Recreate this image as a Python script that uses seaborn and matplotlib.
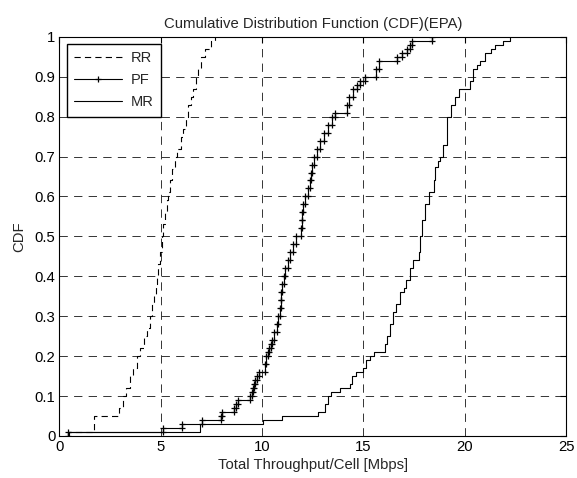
import numpy as np
import pandas as pd
import matplotlib
matplotlib.use("Agg")
import matplotlib.pyplot as plt
import seaborn as sns

# ---- data: step CDF breakpoints (throughput [Mbps], CDF level after jump) ----
rr_x = [0.45, 1.7, 2.95, 3.15, 3.3, 3.5, 3.65, 3.85, 4.0, 4.15, 4.3, 4.45, 4.55, 4.65,
        4.75, 4.8, 4.88, 4.95, 5.04, 5.1, 5.2, 5.3, 5.37, 5.45, 5.55, 5.7, 5.82, 6.0,
        6.1, 6.24, 6.35, 6.5, 6.6, 6.76, 6.85, 7.0, 7.2, 7.5, 7.7]
rr_f = [0.01, 0.05, 0.07, 0.10, 0.12, 0.15, 0.17, 0.20, 0.22, 0.25, 0.27, 0.30, 0.33, 0.35,
        0.38, 0.40, 0.43, 0.46, 0.50, 0.53, 0.56, 0.59, 0.61, 0.64, 0.67, 0.70, 0.72, 0.75,
        0.77, 0.80, 0.83, 0.85, 0.87, 0.90, 0.92, 0.95, 0.97, 0.99, 1.00]

pf_x = [0.44, 5.12, 6.05, 7.02, 7.95, 8.0, 8.6, 8.7, 8.8, 9.4, 9.5, 9.55, 9.6, 9.65, 9.75,
        9.85, 10.15, 10.2, 10.28, 10.35, 10.42, 10.5, 10.6, 10.72, 10.8, 10.88, 10.92,
        10.95, 11.0, 11.08, 11.15, 11.28, 11.4, 11.52, 11.65, 11.9, 11.97, 11.98, 12.0,
        12.1, 12.25, 12.36, 12.4, 12.45, 12.58, 12.7, 12.85, 13.05, 13.27, 13.45, 13.6,
        14.17, 14.3, 14.5, 14.7, 14.85, 15.1, 15.6, 15.75, 16.65, 16.9, 17.15, 17.3,
        17.4, 18.37]
pf_f = [0.01, 0.02, 0.03, 0.04, 0.05, 0.06, 0.07, 0.08, 0.09, 0.10, 0.11, 0.12, 0.13, 0.14, 0.15,
        0.16, 0.18, 0.20, 0.21, 0.22, 0.23, 0.24, 0.26, 0.28, 0.30, 0.32, 0.34,
        0.36, 0.38, 0.40, 0.42, 0.44, 0.46, 0.48, 0.50, 0.52, 0.54, 0.56, 0.58,
        0.60, 0.62, 0.64, 0.66, 0.68, 0.70, 0.72, 0.74, 0.76, 0.78, 0.80, 0.81,
        0.83, 0.85, 0.87, 0.88, 0.89, 0.90, 0.92, 0.94, 0.95, 0.96, 0.97, 0.98,
        0.99, 1.00]

mr_x = [0.44, 6.93, 10.06, 10.97, 12.78, 13.1, 13.27, 13.4, 13.84, 14.34, 14.42, 14.64,
        15.0, 15.15, 15.35, 15.5, 16.07, 16.15, 16.3, 16.45, 16.6, 16.8, 17.0, 17.1, 17.3,
        17.46, 17.76, 17.78, 17.9, 18.05, 18.26, 18.5, 18.54, 18.7, 18.8, 18.95, 19.11,
        19.3, 19.5, 19.7, 20.27, 20.4, 20.6, 20.76, 21.0, 21.3, 21.5, 21.9, 22.24]
mr_f = [0.01, 0.03, 0.04, 0.05, 0.06, 0.08, 0.10, 0.11, 0.12, 0.13, 0.15, 0.16,
        0.17, 0.19, 0.20, 0.21, 0.23, 0.25, 0.28, 0.31, 0.33, 0.36, 0.37, 0.39, 0.42,
        0.44, 0.46, 0.50, 0.54, 0.58, 0.61, 0.64, 0.675, 0.69, 0.70, 0.73, 0.80,
        0.83, 0.85, 0.87, 0.89, 0.92, 0.93, 0.94, 0.96, 0.97, 0.98, 0.99, 1.00]

series_names = ["RR", "PF", "MR"]
x_ticks = [0, 5, 10, 15, 20, 25]
y_ticks = [0, 0.1, 0.2, 0.3, 0.4, 0.5, 0.6, 0.7, 0.8, 0.9, 1]
y_tick_labels = ["0", "0.1", "0.2", "0.3", "0.4", "0.5", "0.6", "0.7", "0.8", "0.9", "1"]


def stairs(xv, fv):
    xv = np.asarray(xv, float)
    fv = np.asarray(fv, float)
    prev = np.concatenate([[0.0], fv[:-1]])
    xs = np.repeat(xv, 2)
    ys = np.empty(2 * len(fv))
    ys[0::2] = prev
    ys[1::2] = fv
    return pd.DataFrame({"x": xs, "y": ys})


sns.set_style("white")
plt.rcParams["font.family"] = ["Liberation Sans", "DejaVu Sans"]
plt.rcParams["lines.scale_dashes"] = False

fig = plt.figure(figsize=(5.77, 4.78), dpi=100)
ax = fig.add_axes([0.103, 0.088, 0.878, 0.835])

styles = {
    "RR": dict(linestyle=(0, (4.5, 3.0)), marker="None"),
    "PF": dict(linestyle="-", marker="+", markersize=5, markeredgewidth=0.9,
               markeredgecolor="black", markerfacecolor="black"),
    "MR": dict(linestyle="-", marker="None"),
}
data = {"RR": (rr_x, rr_f), "PF": (pf_x, pf_f), "MR": (mr_x, mr_f)}

handles = []
for name in series_names:
    df = stairs(*data[name])
    n_before = len(ax.lines)
    sns.lineplot(data=df, x="x", y="y", ax=ax, estimator=None, sort=False,
                 color="black", linewidth=0.8, legend=False)
    line = ax.lines[n_before]
    line.set(**styles[name])
    line.set_label(name)
    handles.append(line)

ax.set_xlim(0, 25)
ax.set_ylim(0, 1)
ax.set_xticks(x_ticks)
ax.set_yticks(y_ticks)
ax.set_yticklabels(y_tick_labels)
ax.grid(True, color="0.15", linestyle=(0, (6, 4.5)), linewidth=0.65)
for s in ax.spines.values():
    s.set_visible(True)
    s.set_color("black")
    s.set_linewidth(0.8)
ax.tick_params(direction="in", length=4, width=0.8, top=True, right=True,
               labelsize=10.75, colors="black", pad=3)

ax.set_title("Cumulative Distribution Function (CDF)(EPA)", fontsize=10.75, pad=6)
ax.set_xlabel("Total Throughput/Cell [Mbps]", fontsize=10.75, labelpad=3)
ax.set_ylabel("CDF", fontsize=10.75, labelpad=6)

leg = ax.legend(handles=handles, labels=series_names, loc="upper left",
                bbox_to_anchor=(0.0, 1.0), fontsize=10.5,
                frameon=True, fancybox=False, shadow=False, handlelength=3.3,
                borderaxespad=0.5, labelspacing=0.55, handletextpad=0.6,
                borderpad=0.5, numpoints=1)
leg.get_frame().set_edgecolor("black")
leg.get_frame().set_linewidth(1.0)
leg.get_frame().set_alpha(1.0)

fig.savefig("out.png", dpi=100)
